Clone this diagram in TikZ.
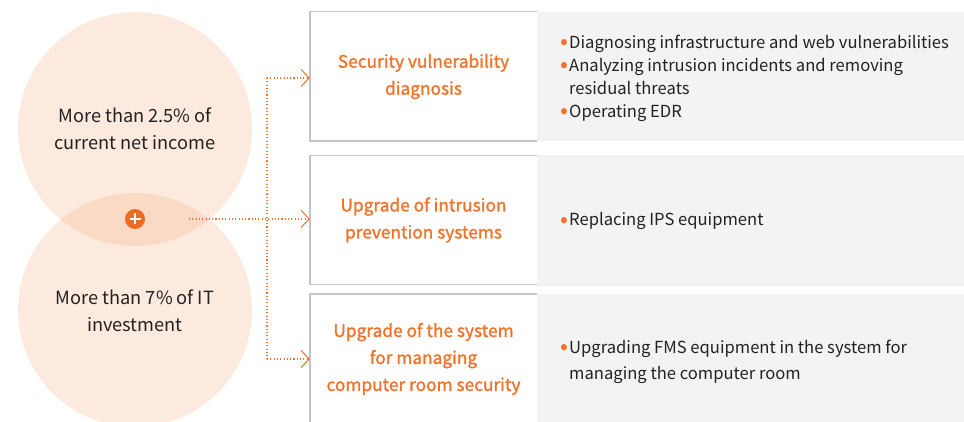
\documentclass[tikz,border=0pt]{standalone}
\usepackage{fontspec}
\setmainfont{Noto Sans CJK KR}
\newfontfamily\titlefont{Noto Sans CJK KR}[FakeBold=1.3]
\usetikzlibrary{arrows.meta}
\definecolor{orng}{HTML}{F07329}
\definecolor{plusc}{HTML}{EE6B22}
\definecolor{circ}{HTML}{FDEADF}
\definecolor{ovl}{HTML}{FAD9C5}
\definecolor{panel}{HTML}{F3F3F3}
\definecolor{bord}{HTML}{C4C4C4}
\definecolor{txt}{HTML}{222222}
\newcommand{\bul}{\makebox[7pt][l]{\hspace*{-1.5pt}\textcolor{orng}{\raisebox{-1.6pt}{\scalebox{1.4}{\textbullet}}}}}
\begin{document}
\begin{tikzpicture}[x=1pt,y=-1pt,
  bigcirc/.style={circle,fill=circ,minimum size=234pt,inner sep=0pt},
  circtext/.style={align=center,text=txt,font=\fontsize{18.2}{27}\selectfont},
  boxnode/.style={rectangle,fill=white,minimum width=227pt,minimum height=129pt,inner sep=0pt,
    align=center,text=orng,font=\titlefont\fontsize{17.3}{27}\selectfont},
  panelnode/.style={rectangle,fill=panel,minimum width=427pt,minimum height=129pt,inner sep=0pt,anchor=north west},
  listtext/.style={anchor=west,align=left,text=txt,inner sep=0pt,font=\fontsize{16.6}{23}\selectfont},
  border/.style={draw=bord,line width=1.4pt},
  dotline/.style={draw=orng,line width=1.1pt,dash pattern=on 1.1pt off 2.2pt},
  tip/.style={-{Straight Barb[length=8pt,width=17pt,line width=1pt]}}
]
\clip (0,0) rectangle (964,422);
\fill[white] (0,0) rectangle (964,422);
% circles
\node[bigcirc] (c1) at (135,129) {};
\node[bigcirc] (c2) at (135,310) {};
\begin{scope}
  \clip (135,129) circle [radius=117pt];
  \fill[ovl] (135,310) circle [radius=117pt];
\end{scope}
\node[circtext] (t1) at (135,129) {More than 2.5\% of\\current net income};
\node[circtext] (t2) at (135,311) {More than 7\% of IT\\investment};
\node[circle,fill=plusc,minimum size=20pt,inner sep=0pt] (plus) at (135,219) {};
\draw[white,line width=2pt] ([xshift=-5.5pt]plus.center) -- ([xshift=5.5pt]plus.center);
\draw[white,line width=2pt] ([yshift=-5.5pt]plus.center) -- ([yshift=5.5pt]plus.center);
% boxes
\node[boxnode] (b1) at (423.5,76.5) {Security vulnerability\\diagnosis};
\node[boxnode] (b2) at (423.5,220) {Upgrade of intrusion\\prevention systems};
\node[boxnode,minimum height=130pt] (b3) at (423.5,359) {Upgrade of the system\\for managing\\computer room security};
\foreach \b in {b1,b2,b3}{
  \draw[border] (\b.north east) -- (\b.north west) -- (\b.south west) -- (\b.south east);
}
% panels
\node[panelnode] (p1) at (b1.north east) {};
\node[panelnode,minimum height=130pt] (p2) at (b2.north east) {};
\node[panelnode,minimum height=130pt] (p3) at (b3.north east) {};
\node[listtext] (l1) at (562,78) {\begin{tabular}{@{}l@{}l@{}}
\bul & Diagnosing infrastructure and web vulnerabilities\\
\bul & Analyzing intrusion incidents and removing\\
 & residual threats\\
\bul & Operating EDR
\end{tabular}};
\node[listtext] (l2) at (562,221) {\begin{tabular}{@{}l@{}l@{}}
\bul & Replacing IPS equipment
\end{tabular}};
\node[listtext,font=\fontsize{16.6}{26}\selectfont] (l3) at (562,361) {\begin{tabular}{@{}l@{}l@{}}
\bul & Upgrading FMS equipment in the system for\\
 & managing the computer room
\end{tabular}};
% connectors
\coordinate (s) at (189,219);
\coordinate (v1) at (267,78);
\coordinate (v3) at (267,359);
\draw[dotline] (v1) -- (v3);
\draw[dotline,tip] (s) -- (s -| b2.west);
\draw[dotline,tip] (v1) -- (v1 -| b1.west);
\draw[dotline,tip] (v3) -- (v3 -| b3.west);
\end{tikzpicture}
\end{document}
